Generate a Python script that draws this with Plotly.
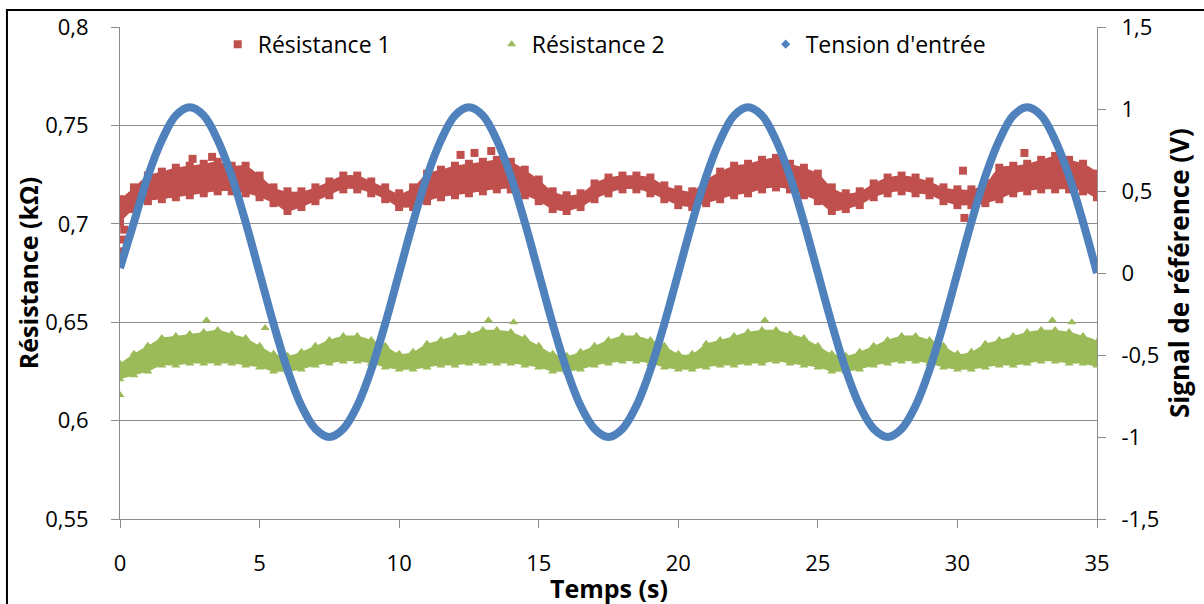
import plotly.graph_objects as go

# ---- time grid (s) ----
t = [0, 0.5, 1, 1.5, 2, 2.5, 3, 3.5, 4, 4.5, 5, 5.5, 6, 6.5, 7, 7.5, 8, 8.5, 9, 9.5,
     10, 10.5, 11, 11.5, 12, 12.5, 13, 13.5, 14, 14.5, 15, 15.5, 16, 16.5, 17, 17.5, 18, 18.5, 19, 19.5,
     20, 20.5, 21, 21.5, 22, 22.5, 23, 23.5, 24, 24.5, 25, 25.5, 26, 26.5, 27, 27.5, 28, 28.5, 29, 29.5,
     30, 30.5, 31, 31.5, 32, 32.5, 33, 33.5, 34, 34.5, 35]

# ---- Résistance 1 (kΩ): upper / lower edge of the point cloud ----
r1_high = [0.7125, 0.7185, 0.7245, 0.7265, 0.7285, 0.7295, 0.7305, 0.7315, 0.7295, 0.7295,
           0.7245, 0.7185, 0.7165, 0.7165, 0.7185, 0.7215, 0.7245, 0.7245, 0.7215, 0.7185,
           0.7155, 0.7185, 0.7255, 0.7275, 0.7295, 0.7305, 0.7315, 0.7325, 0.7315, 0.7275,
           0.7225, 0.7165, 0.7145, 0.7155, 0.7205, 0.7235, 0.7245, 0.7245, 0.7235, 0.7195,
           0.7175, 0.7165, 0.7225, 0.7265, 0.7295, 0.7305, 0.7325, 0.7335, 0.7305, 0.7285,
           0.7255, 0.7185, 0.7155, 0.7165, 0.7205, 0.7235, 0.7245, 0.7235, 0.7215, 0.7185,
           0.7175, 0.7175, 0.7205, 0.7285, 0.7295, 0.7305, 0.7325, 0.7345, 0.7325, 0.7305, 0.7255]
r1_low = [0.7005, 0.7075, 0.7115, 0.7125, 0.7135, 0.7145, 0.7155, 0.7165, 0.7165, 0.7155,
          0.7135, 0.7105, 0.7065, 0.7085, 0.7115, 0.7145, 0.7175, 0.7175, 0.7155, 0.7125,
          0.7085, 0.7085, 0.7115, 0.7135, 0.7145, 0.7155, 0.7165, 0.7175, 0.7175, 0.7145,
          0.7115, 0.7075, 0.7065, 0.7085, 0.7125, 0.7155, 0.7175, 0.7175, 0.7155, 0.7125,
          0.7095, 0.7085, 0.7105, 0.7125, 0.7145, 0.7155, 0.7175, 0.7185, 0.7175, 0.7145,
          0.7115, 0.7065, 0.7075, 0.7095, 0.7135, 0.7155, 0.7165, 0.7155, 0.7145, 0.7115,
          0.7095, 0.7095, 0.7105, 0.7125, 0.7155, 0.7165, 0.7175, 0.7175, 0.7175, 0.7165, 0.7135]
r1_out_t = [0.0, 0.08, 0.15, 2.6, 3.3, 12.2, 12.7, 13.3, 30.2, 30.25, 32.4]
r1_out_v = [0.686, 0.692, 0.697, 0.733, 0.734, 0.735, 0.736, 0.737, 0.727, 0.703, 0.736]

# ---- Résistance 2 (kΩ) ----
r2_high = [0.629, 0.634, 0.638, 0.642, 0.643, 0.644, 0.645, 0.646, 0.644, 0.642,
           0.638, 0.634, 0.633, 0.635, 0.638, 0.641, 0.643, 0.643, 0.641, 0.638,
           0.634, 0.635, 0.639, 0.641, 0.643, 0.644, 0.646, 0.646, 0.645, 0.642,
           0.638, 0.634, 0.633, 0.635, 0.638, 0.641, 0.643, 0.643, 0.641, 0.638,
           0.634, 0.634, 0.639, 0.641, 0.643, 0.645, 0.646, 0.646, 0.644, 0.642,
           0.638, 0.634, 0.633, 0.635, 0.638, 0.641, 0.643, 0.643, 0.641, 0.638,
           0.634, 0.635, 0.639, 0.641, 0.643, 0.645, 0.646, 0.646, 0.645, 0.643, 0.640]
r2_low = [0.621, 0.623, 0.625, 0.628, 0.628, 0.629, 0.629, 0.629, 0.629, 0.628,
          0.627, 0.625, 0.625, 0.626, 0.628, 0.629, 0.630, 0.630, 0.629, 0.627,
          0.626, 0.626, 0.627, 0.628, 0.628, 0.629, 0.629, 0.629, 0.629, 0.628,
          0.627, 0.625, 0.625, 0.626, 0.628, 0.629, 0.630, 0.630, 0.629, 0.627,
          0.626, 0.626, 0.627, 0.628, 0.628, 0.629, 0.629, 0.630, 0.629, 0.628,
          0.627, 0.625, 0.625, 0.626, 0.628, 0.629, 0.630, 0.630, 0.629, 0.627,
          0.626, 0.626, 0.627, 0.628, 0.628, 0.629, 0.630, 0.630, 0.629, 0.629, 0.628]
r2_out_t = [0.0, 3.1, 5.2, 13.2, 14.1, 23.1, 33.4, 34.1]
r2_out_v = [0.613, 0.651, 0.647, 0.651, 0.650, 0.651, 0.651, 0.650]

# ---- Tension d'entrée (V) ----
tension = [0.03, 0.31, 0.59, 0.81, 0.96, 1.01, 0.96, 0.81, 0.59, 0.31,
           0.00, -0.31, -0.59, -0.81, -0.95, -1.00, -0.95, -0.81, -0.59, -0.31,
           0.00, 0.31, 0.59, 0.81, 0.96, 1.01, 0.96, 0.81, 0.59, 0.31,
           0.00, -0.31, -0.59, -0.81, -0.95, -1.00, -0.95, -0.81, -0.59, -0.31,
           0.00, 0.31, 0.59, 0.81, 0.96, 1.01, 0.96, 0.81, 0.59, 0.31,
           0.00, -0.31, -0.59, -0.81, -0.95, -1.00, -0.95, -0.81, -0.59, -0.31,
           0.00, 0.31, 0.59, 0.81, 0.96, 1.01, 0.96, 0.81, 0.59, 0.31, 0.00]

# ---- ticks ----
x_ticks = [0, 5, 10, 15, 20, 25, 30, 35]
x_labels = ["0", "5", "10", "15", "20", "25", "30", "35"]
yl_ticks = [0.55, 0.6, 0.65, 0.7, 0.75, 0.8]
yl_labels = ["0,55", "0,6", "0,65", "0,7", "0,75", "0,8"]
yr_ticks = [-1.5, -1, -0.5, 0, 0.5, 1, 1.5]
yr_labels = ["-1,5", "-1", "-0,5", "0", "0,5", "1", "1,5"]

RED = "#C0504D"
GREEN = "#9BBB59"
BLUE = "#4F81BD"
GRID = "#8C8C8C"
FONT = "Open Sans"
MS = 8

fig = go.Figure()


def band(hi, lo, color, symbol, name, out_t, out_v):
    fig.add_trace(go.Scatter(x=t + t[::-1], y=hi + lo[::-1], fill="toself", mode="lines",
                             line=dict(color=color, width=0, shape="spline"),
                             fillcolor=color, showlegend=False, hoverinfo="skip"))
    fig.add_trace(go.Scatter(x=t, y=hi, mode="markers", showlegend=False,
                             marker=dict(symbol=symbol, size=MS, color=color)))
    fig.add_trace(go.Scatter(x=t, y=lo, mode="markers", showlegend=False,
                             marker=dict(symbol=symbol, size=MS, color=color)))
    fig.add_trace(go.Scatter(x=out_t, y=out_v, mode="markers", name=name,
                             marker=dict(symbol=symbol, size=MS, color=color)))


band(r1_high, r1_low, RED, "square", "Résistance 1", r1_out_t, r1_out_v)
band(r2_high, r2_low, GREEN, "triangle-up", "Résistance 2", r2_out_t, r2_out_v)

fig.add_trace(go.Scatter(x=t, y=tension, yaxis="y2", mode="lines", showlegend=False,
                         line=dict(color=BLUE, width=8, shape="spline")))
fig.add_trace(go.Scatter(x=[None], y=[None], yaxis="y2", mode="markers", name="Tension d'entrée",
                         marker=dict(symbol="diamond", size=7, color=BLUE)))

fig.update_layout(
    width=1204, height=604,
    margin=dict(l=120, r=107, t=27, b=85, autoexpand=False),
    paper_bgcolor="white", plot_bgcolor="white",
    font=dict(family=FONT, size=20, color="black"),
    hovermode=False,
    showlegend=True,
    legend=dict(orientation="h", x=0.10, xanchor="left", y=0.965, yanchor="middle",
                entrywidth=229, entrywidthmode="pixels", font=dict(size=23),
                bgcolor="rgba(0,0,0,0)", itemwidth=30, tracegroupgap=0),
    xaxis=dict(range=[0, 35], tickvals=x_ticks, ticktext=x_labels, automargin=False,
               showline=True, linecolor=GRID, linewidth=1,
               ticks="outside", ticklen=8, tickcolor=GRID,
               showgrid=False, zeroline=False, ticklabelstandoff=17,
               tickfont=dict(size=22)),
    yaxis=dict(range=[0.55, 0.8], tickvals=yl_ticks, ticktext=yl_labels, automargin=False,
               showline=True, linecolor=GRID, linewidth=1,
               ticks="outside", ticklen=8, tickcolor=GRID,
               showgrid=True, gridcolor=GRID, gridwidth=1, zeroline=False,
               ticklabelstandoff=18, tickfont=dict(size=22)),
    yaxis2=dict(range=[-1.5, 1.5], tickvals=yr_ticks, ticktext=yr_labels, automargin=False,
                overlaying="y", side="right",
                showline=True, linecolor=GRID, linewidth=1,
                ticks="outside", ticklen=8, tickcolor=GRID,
                showgrid=False, zeroline=False, ticklabelstandoff=11,
                tickfont=dict(size=22)),
    yaxis3=dict(range=[-1.5, 1.5], tick0=0, dtick=1, overlaying="y", side="right",
                automargin=False,
                showticklabels=False, ticks="", showline=False, zeroline=False,
                showgrid=True, gridcolor=GRID, gridwidth=1, griddash="9px,5px"),
)

# axis titles
fig.add_annotation(text="<b>Temps (s)</b>", xref="paper", yref="paper", x=0.5, y=-0.14,
                   xanchor="center", yanchor="middle", showarrow=False, font=dict(size=25))
fig.add_annotation(text="<b>Résistance (kΩ)</b>", xref="paper", yref="paper", x=-0.094, y=0.5,
                   xanchor="center", yanchor="middle", textangle=-90, showarrow=False,
                   font=dict(size=25))
fig.add_annotation(text="<b>Signal de référence (V)</b>", xref="paper", yref="paper", x=1.084, y=0.5,
                   xanchor="center", yanchor="middle", textangle=-90, showarrow=False,
                   font=dict(size=26))

# outer chart-area frame (left and top edges visible in the reference)
fig.add_shape(type="rect", xref="paper", yref="paper",
              x0=-0.1157, x1=1.3, y0=-0.4, y1=1.0346,
              line=dict(color="black", width=2), layer="below")

fig.write_html("out.html", config={"displayModeBar": False, "staticPlot": True},
               post_script="document.body.style.margin='0px';")
